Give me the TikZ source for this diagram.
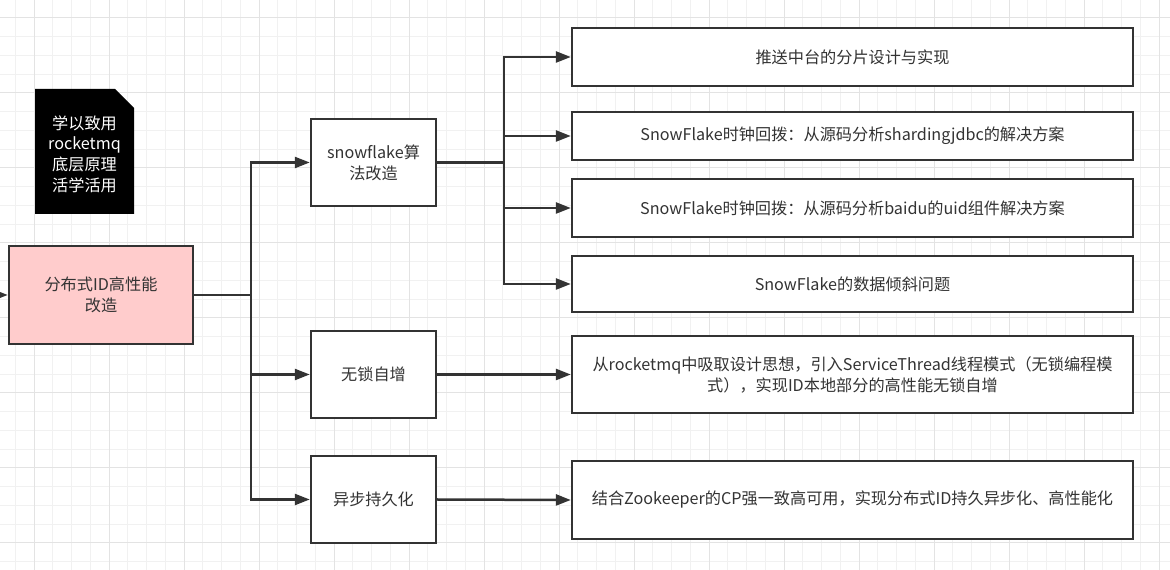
\documentclass[tikz,border=0pt]{standalone}
\usepackage{fontspec}
\setmainfont{Noto Sans CJK SC}
\usetikzlibrary{arrows.meta}
\definecolor{linegray}{HTML}{333333}
\definecolor{rootpink}{HTML}{FFCCCC}
\definecolor{gridminor}{HTML}{F1F1F1}
\definecolor{gridmajor}{HTML}{E3E3E3}
\tikzset{
  box/.style={draw=linegray, line width=0.05cm, fill=white, text=linegray, align=center,
    font=\fontsize{9.2}{12}\selectfont, inner sep=0pt},
  midbox/.style={box, minimum width=2.5cm, minimum height=1.74cm},
  wide/.style={box, minimum width=11.22cm, minimum height=#1},
  link/.style={draw=linegray, line width=0.05cm},
  arr/.style={link, -{Triangle[length=0.3cm,width=0.22cm]}},
}

\begin{document}
\begin{tikzpicture}[x=0.02cm, y=-0.02cm]
			%%%%% START %%%%%
			\useasboundingbox (0,0) rectangle (1170,570);
			\fill[white] (0,0) rectangle (1170,570);
			
			% background grid
			\foreach \i in {0,...,62}
				\draw[gridminor, line width=0.02cm] ({15.25+18.75*\i},0) -- ++(0,570);
			\foreach \j in {0,...,31}
				\draw[gridminor, line width=0.02cm] (0,{-0.75+18.75*\j}) -- ++(1170,0);
			\foreach \i in {0,...,15}
				\draw[gridmajor, line width=0.02cm] ({34+75*\i},0) -- ++(0,570);
			\foreach \j in {0,...,7}
				\draw[gridmajor, line width=0.02cm] (0,{18+75*\j}) -- ++(1170,0);
			
			% black note
			\fill[black] (35,89) -- (115,89) -- (134,108) -- (134,214) -- (35,214) -- cycle;
			\node[align=center, text=white, font=\fontsize{9.2}{11.8}\selectfont] (note) at (84.5,154)
				{学以致用\\rocketmq\\底层原理\\活学活用};
			
			% root
			\node[box, fill=rootpink, minimum width=3.68cm, minimum height=1.96cm] (root) at (101,295)
				{分布式ID高性能\\改造};
			\coordinate (inlet) at (-40,295);
			\draw[arr] (inlet) -- (root.west);
			
			% second level
			\node[midbox] (snow) at (373.5,162.5) {snowflake算\\法改造};
			\node[midbox] (nolock) at (373.5,374.5) {无锁自增};
			\node[midbox] (async) at (373.5,499.5) {异步持久化};
			
			\coordinate (busA) at (251,295);
			\draw[link] (root.east) -- (busA);
			\draw[arr] (busA) |- (snow.west);
			\draw[arr] (busA) |- (nolock.west);
			\draw[arr] (busA) |- (async.west);
			
			% third level
			\node[wide=1.16cm] (shard) at (852.5,57) {推送中台的分片设计与实现};
			\node[wide=0.96cm] (jdbc) at (852.5,136) {SnowFlake时钟回拨：从源码分析shardingjdbc的解决方案};
			\node[wide=1.16cm] (baidu) at (852.5,208) {SnowFlake时钟回拨：从源码分析baidu的uid组件解决方案};
			\node[wide=1.12cm] (skew) at (852.5,284) {SnowFlake的数据倾斜问题};
			\node[wide=1.54cm] (thread) at (852.5,374.5)
				{从rocketmq中吸取设计思想，引入ServiceThread线程模式（无锁编程模\\式），实现ID本地部分的高性能无锁自增};
			\node[wide=1.56cm] (zk) at (852.5,500)
				{结合Zookeeper的CP强一致高可用，实现分布式ID持久异步化、高性能化};
			
			\coordinate (busB) at (504,162.5);
			\draw[link] (snow.east) -- (busB);
			\draw[arr] (busB) |- (shard.west);
			\draw[arr] (busB) |- (jdbc.west);
			\draw[arr] (busB) |- (baidu.west);
			\draw[arr] (busB) |- (skew.west);
			
			\draw[arr] (nolock.east) -- (thread.west);
			\draw[arr] (async.east) -- (zk.west);
			%%%%% END %%%%%
\end{tikzpicture}
\end{document}
